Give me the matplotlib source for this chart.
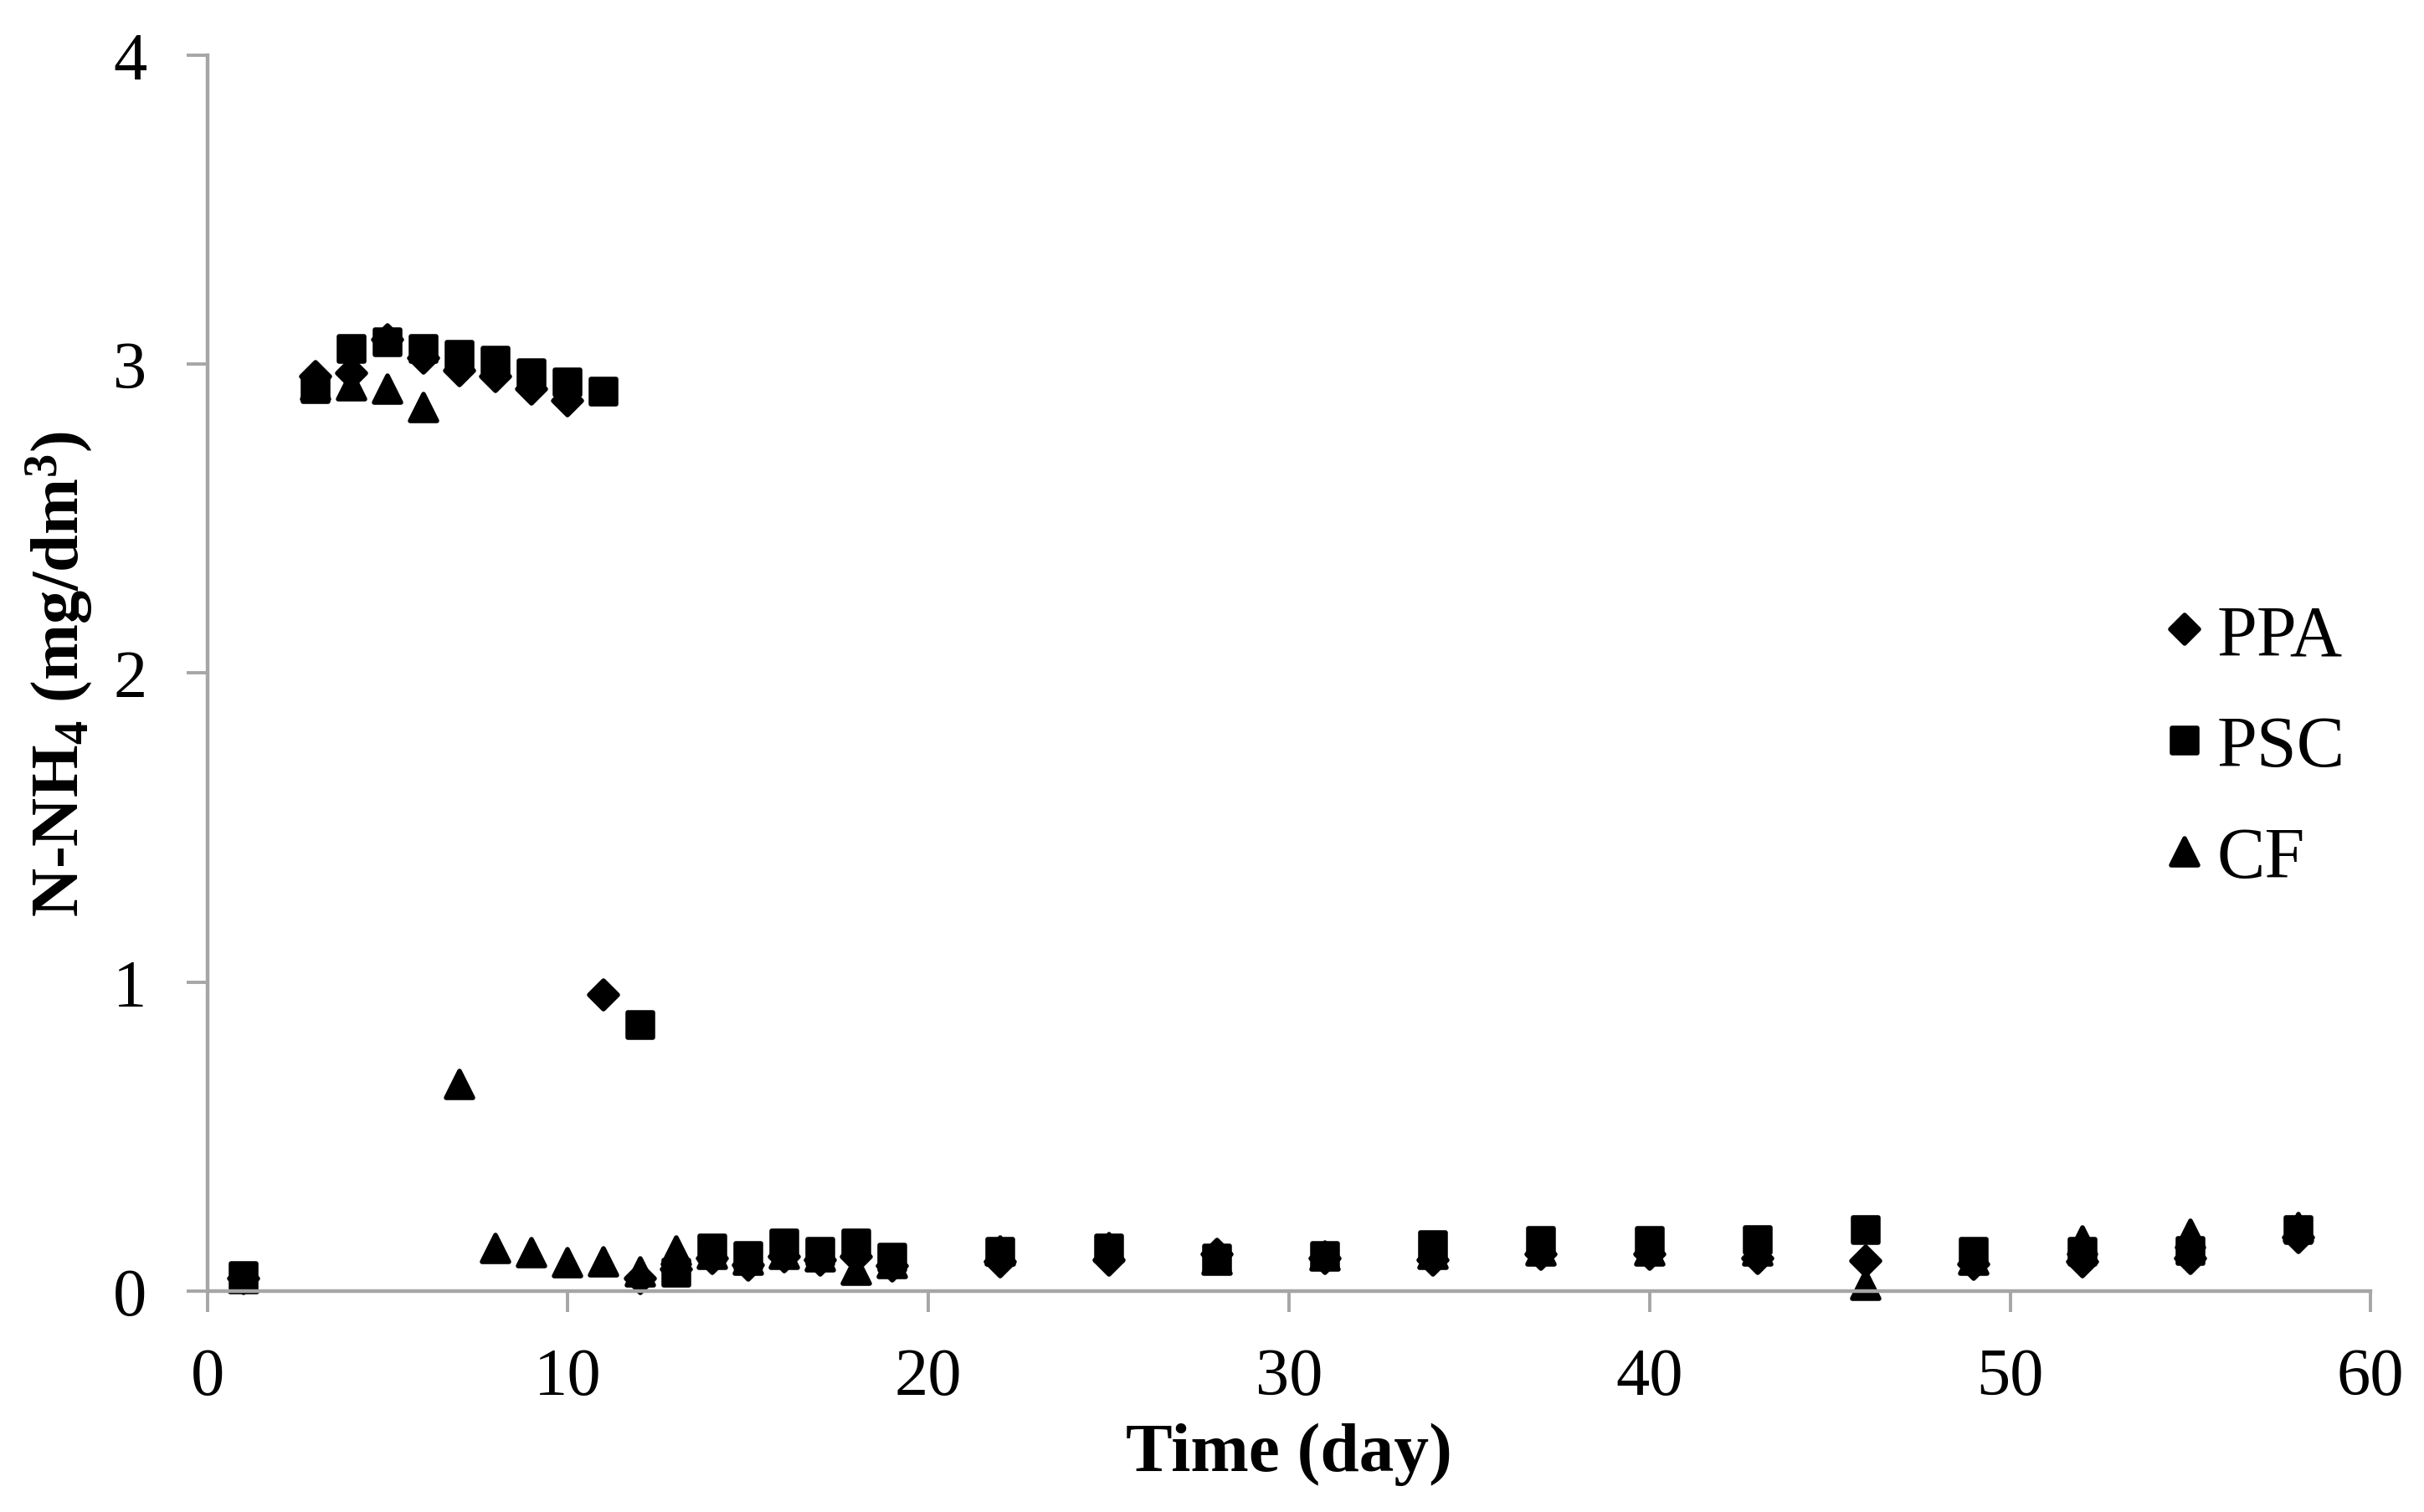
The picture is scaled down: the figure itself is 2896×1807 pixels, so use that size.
import matplotlib
matplotlib.use("Agg")
import matplotlib.pyplot as plt
from matplotlib.markers import MarkerStyle

plt.rcParams['font.family'] = ['Liberation Serif', 'DejaVu Serif']
plt.rcParams['mathtext.fontset'] = 'custom'
plt.rcParams['mathtext.rm'] = 'Liberation Serif:bold'
plt.rcParams['mathtext.bf'] = 'Liberation Serif:bold'
plt.rcParams['mathtext.it'] = 'Liberation Serif:bold'

days = [1, 3, 4, 5, 6, 7, 8, 9, 10, 11, 12, 13, 14, 15, 16, 17, 18, 19,
        22, 25, 28, 31, 34, 37, 40, 43, 46, 49, 52, 55, 58]

ppa = [0.04, 2.96, 2.97, 3.08, 3.02, 2.98, 2.96, 2.92, 2.88, 0.96, 0.04, 0.07,
       0.105, 0.083, 0.11, 0.10, 0.11, 0.08, 0.095, 0.10, 0.12, 0.105, 0.10,
       0.12, 0.12, 0.105, 0.097, 0.086, 0.095, 0.105, 0.173]

psc = [0.05, 2.92, 3.05, 3.07, 3.05, 3.03, 3.01, 2.97, 2.94, 2.91, 0.86, 0.06,
       0.138, 0.114, 0.154, 0.127, 0.154, 0.108, 0.127, 0.138, 0.105, 0.115,
       0.15, 0.163, 0.163, 0.165, 0.198, 0.127, 0.127, 0.13, 0.198]

cf = [0.04, 2.93, 2.93, 2.92, 2.86, 0.67, 0.138, 0.124, 0.092, 0.095, 0.062,
      0.13, 0.12, 0.10, 0.12, 0.11, 0.067, 0.09, 0.13, 0.14, 0.10, 0.115,
      0.12, 0.13, 0.13, 0.13, 0.018, 0.10, 0.162, 0.185, 0.205]

series_names = ['PPA', 'PSC', 'CF']
x_ticks = [0, 10, 20, 30, 40, 50, 60]
y_ticks = [0, 1, 2, 3, 4]

fig = plt.figure(figsize=(14.48, 9.04), dpi=200)
ax = fig.add_axes([0.0855, 0.146, 0.8925, 0.817])

axis_color = '#a6a6a6'
mk = dict(color='black', markeredgecolor='black', markeredgewidth=2.0,
          linestyle='none', clip_on=False)
ax.plot(days, ppa, marker=MarkerStyle('D', joinstyle='round'), markersize=8.6,
        label=series_names[0], **mk)
ax.plot(days, psc, marker=MarkerStyle('s', joinstyle='round'), markersize=11,
        label=series_names[1], **mk)
ax.plot(days, cf, marker=MarkerStyle('^', joinstyle='round'), markersize=11.5,
        label=series_names[2], **mk)

ax.set_xlim(0, 60)
ax.set_ylim(0, 4)
ax.set_xticks(x_ticks)
ax.set_yticks(y_ticks)
ax.set_xticklabels([str(v) for v in x_ticks])
ax.set_yticklabels([str(v) for v in y_ticks])

for s in ['top', 'right']:
    ax.spines[s].set_visible(False)
for s in ['left', 'bottom']:
    ax.spines[s].set_color(axis_color)
    ax.spines[s].set_linewidth(1.6)
ax.tick_params(axis='both', direction='out', length=9, width=1.4,
               color=axis_color, labelsize=29, labelcolor='black')
ax.tick_params(axis='y', pad=17)
ax.tick_params(axis='x', pad=15)

ax.set_xlabel('Time (day)', fontsize=30, fontweight='bold', labelpad=6)
ax.set_ylabel(r'N-NH$_{4}$ (mg/dm$^{3}$)', fontsize=29, fontweight='bold', labelpad=8)

leg = ax.legend(loc='center left', bbox_to_anchor=(0.904, 0.439), frameon=False,
                fontsize=31, handlelength=0.6, handletextpad=0.15,
                labelspacing=0.62, borderpad=0, borderaxespad=0)

fig.savefig('out.png', dpi=200)
